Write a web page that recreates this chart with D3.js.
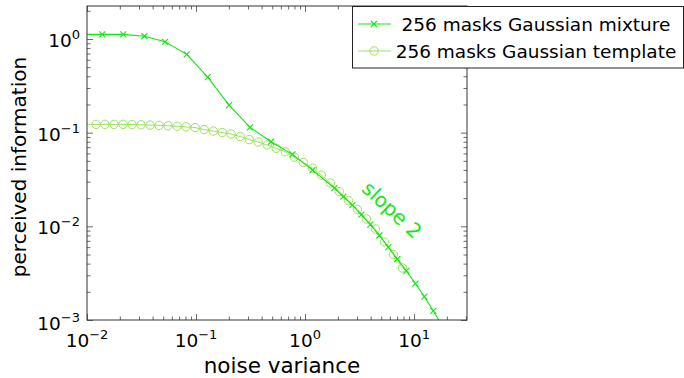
<!DOCTYPE html>
<html>
<head>
<meta charset="utf-8">
<script src="https://cdn.jsdelivr.net/npm/d3@7"></script>
<style>
  body { margin: 0; background: #fff; }
  svg { font-family: "DejaVu Sans", sans-serif; }
</style>
</head>
<body>
<svg width="684" height="378"></svg>
<script>
// series (noise variance, perceived information)
const mixtureX = [0.0088, 0.0138, 0.0215, 0.0336, 0.052, 0.0822, 0.128, 0.201, 0.313, 0.488, 0.767, 1.17,
  1.857, 2.246, 2.716, 3.285, 3.973, 4.805, 5.811, 7.029, 8.5, 10.28, 12.43, 15.03, 18.18];
const mixtureY = [1.12, 1.12, 1.12, 1.07, 0.933, 0.686, 0.392, 0.197, 0.114, 0.080, 0.0587, 0.0399,
  0.02564, 0.0208, 0.01688, 0.01336, 0.01045, 0.00798, 0.00601, 0.00448, 0.00334, 0.00245, 0.00178, 0.00125, 0.000863];

const templateX = [0.0083, 0.0121, 0.0146, 0.0177, 0.0214, 0.0259, 0.0313, 0.0379, 0.0458, 0.0554, 0.0671, 0.0811,
  0.0982, 0.119, 0.144, 0.174, 0.210, 0.254, 0.308, 0.372, 0.450, 0.544, 0.659, 0.797, 0.964,
  1.17, 1.41, 1.71, 2.06, 2.50, 3.02, 3.65, 4.42, 5.35, 6.47, 7.82];
const templateY = [0.1226, 0.1226, 0.1226, 0.1226, 0.1226, 0.1220, 0.1214, 0.1205, 0.1196, 0.1185, 0.1170, 0.1153,
  0.1133, 0.1079, 0.1040, 0.1003, 0.0966, 0.0909, 0.0844, 0.0794, 0.0738, 0.0680, 0.0625, 0.0549, 0.0480,
  0.0419, 0.0353, 0.0290, 0.0235, 0.0188, 0.0151, 0.01197, 0.00936, 0.00680, 0.00500, 0.00359];

const xMajor = [0.01, 0.1, 1, 10];
const xMajorExp = ["\u22122", "\u22121", "0", "1"];
const yMajor = [0.001, 0.01, 0.1, 1];
const yMajorExp = ["\u22123", "\u22122", "\u22121", "0"];
const legendLabels = ["256 masks Gaussian mixture", "256 masks Gaussian template"];

const mixColor = "#14e614";
const tplColor = "#9be35e";

const svg = d3.select("svg");
const pL = 87, pR = 467, pT = 6, pB = 320;

const x = d3.scaleLog().domain([0.01, 30.6]).range([pL, pR]);
const y = d3.scaleLog().domain([0.001, 2.25]).range([pB, pT]);

function minors(lo, hi) {
  const out = [];
  for (let e = lo; e < hi; e++) for (let m = 2; m <= 9; m++) out.push(m * Math.pow(10, e));
  return out;
}
const xMinor = minors(-2, 2).filter(v => v < 30.6);
const yMinor = minors(-3, 1).filter(v => v < 2.25);

// ticks on all four sides, pointing inwards
function ticks(axisFn, scale, vals, len, tr) {
  const g = svg.append("g").attr("transform", tr)
    .call(axisFn(scale).tickValues(vals).tickSize(len).tickFormat(""));
  g.select(".domain").remove();
  g.selectAll("line").attr("stroke", "#444").attr("stroke-width", 0.8);
}
ticks(d3.axisBottom, x, xMajor, -6, `translate(0,${pB})`);
ticks(d3.axisBottom, x, xMinor, -3.5, `translate(0,${pB})`);
ticks(d3.axisTop, x, xMajor, -6, `translate(0,${pT})`);
ticks(d3.axisTop, x, xMinor, -3.5, `translate(0,${pT})`);
ticks(d3.axisLeft, y, yMajor, -6, `translate(${pL},0)`);
ticks(d3.axisLeft, y, yMinor, -3.5, `translate(${pL},0)`);
ticks(d3.axisRight, y, yMajor, -6, `translate(${pR},0)`);
ticks(d3.axisRight, y, yMinor, -3.5, `translate(${pR},0)`);

// tick labels 10^k
xMajor.forEach((v, i) => {
  const t = svg.append("text").attr("x", x(v)).attr("y", 347)
    .attr("text-anchor", "middle").attr("font-size", 18.5);
  t.append("tspan").text("10");
  t.append("tspan").attr("dy", -8).attr("font-size", 13).text(xMajorExp[i]);
});
yMajor.forEach((v, i) => {
  const t = svg.append("text").attr("x", 80).attr("y", y(v) + (i === 0 ? 10 : 8))
    .attr("text-anchor", "end").attr("font-size", 18.5);
  t.append("tspan").text("10");
  t.append("tspan").attr("dy", -8).attr("font-size", 13).text(yMajorExp[i]);
});

svg.append("text").attr("x", (pL + pR) / 2 + 5).attr("y", 373)
  .attr("text-anchor", "middle").attr("font-size", 21.5).text("noise variance");
svg.append("text").attr("transform", "translate(26,167) rotate(-90)")
  .attr("text-anchor", "middle").attr("font-size", 20).text("perceived information");

svg.append("defs").append("clipPath").attr("id", "plot")
  .append("rect").attr("x", pL).attr("y", pT).attr("width", pR - pL).attr("height", pB - pT);

const plot = svg.append("g").attr("clip-path", "url(#plot)");
const line = d3.line().x(d => x(d[0])).y(d => y(d[1]));

const tplData = templateX.map((v, i) => [v, templateY[i]]);
const mixData = mixtureX.map((v, i) => [v, mixtureY[i]]);

plot.append("path").datum(tplData).attr("d", line)
  .attr("fill", "none").attr("stroke", tplColor).attr("stroke-width", 1);
plot.selectAll("circle.tpl").data(tplData).join("circle").attr("class", "tpl")
  .attr("cx", d => x(d[0])).attr("cy", d => y(d[1])).attr("r", 4.2)
  .attr("fill", "none").attr("stroke", tplColor).attr("stroke-width", 1);

plot.append("path").datum(mixData).attr("d", line)
  .attr("fill", "none").attr("stroke", mixColor).attr("stroke-width", 1.1);
const cross = "M-3,-3L3,3M-3,3L3,-3";
plot.selectAll("path.mix").data(mixData).join("path").attr("class", "mix")
  .attr("transform", d => `translate(${x(d[0])},${y(d[1])})`).attr("d", cross)
  .attr("stroke", mixColor).attr("stroke-width", 1.1);

// frame
svg.append("rect").attr("x", pL).attr("y", pT).attr("width", pR - pL).attr("height", pB - pT)
  .attr("fill", "none").attr("stroke", "#333").attr("stroke-width", 1);

svg.append("text").attr("transform", "translate(391,211) rotate(43)")
  .attr("text-anchor", "middle").attr("dominant-baseline", "middle")
  .attr("font-size", 20).attr("fill", mixColor).text("slope 2");

// legend
const lg = svg.append("g");
lg.append("rect").attr("x", 352.5).attr("y", 6.5).attr("width", 331).attr("height", 61.5)
  .attr("fill", "#fff").attr("stroke", "#222").attr("stroke-width", 1);
const rows = [24, 51];
lg.append("line").attr("x1", 358).attr("x2", 391).attr("y1", rows[0]).attr("y2", rows[0])
  .attr("stroke", mixColor).attr("stroke-width", 1.1);
lg.append("path").attr("transform", `translate(374,${rows[0]})`).attr("d", cross)
  .attr("stroke", mixColor).attr("stroke-width", 1.1);
lg.append("line").attr("x1", 358).attr("x2", 391).attr("y1", rows[1]).attr("y2", rows[1])
  .attr("stroke", tplColor).attr("stroke-width", 1);
lg.append("circle").attr("cx", 374).attr("cy", rows[1]).attr("r", 4.2)
  .attr("fill", "none").attr("stroke", tplColor);
legendLabels.forEach((s, i) => {
  lg.append("text").attr("x", 536).attr("y", rows[i] + 7).attr("text-anchor", "middle")
    .attr("font-size", 18.5).text(s);
});
</script>
</body>
</html>
